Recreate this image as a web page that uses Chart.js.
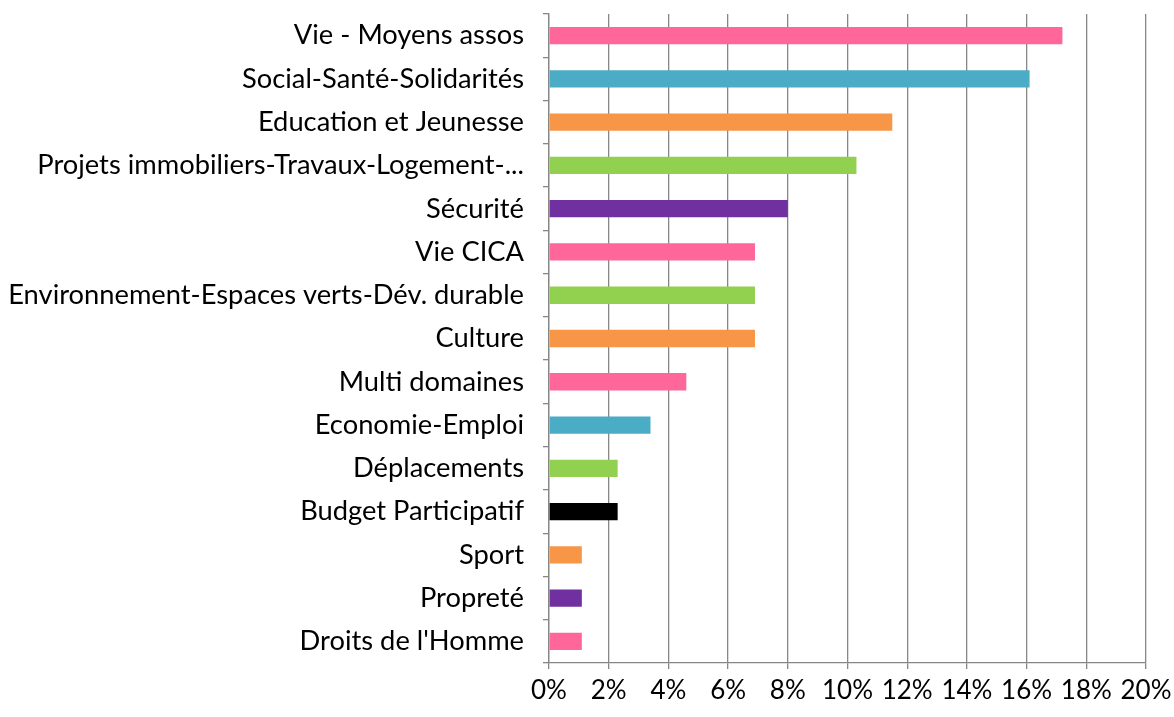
<!DOCTYPE html>
<html lang="fr">
<head>
<meta charset="UTF-8">
<title>Domaines</title>
<script src="https://cdn.jsdelivr.net/npm/chart.js"></script>
<style>
    body { margin: 0; padding: 0; background: #fff; }
    #wrap { width: 1174px; height: 717px; }
</style>
</head>
<body>
<div id="wrap"><canvas id="graphique" width="1174" height="717"></canvas></div>
<script>
const categories = [
    "Vie - Moyens assos",
    "Social-Santé-Solidarités",
    "Education et Jeunesse",
    "Projets immobiliers-Travaux-Logement-...",
    "Sécurité",
    "Vie CICA",
    "Environnement-Espaces verts-Dév. durable",
    "Culture",
    "Multi domaines",
    "Economie-Emploi",
    "Déplacements",
    "Budget Participatif",
    "Sport",
    "Propreté",
    "Droits de l'Homme"
];
const pourcentages = [17.2, 16.1, 11.5, 10.3, 8.0, 6.9, 6.9, 6.9, 4.6, 3.4, 2.3, 2.3, 1.1, 1.1, 1.1];
const couleurs = ["#FF6699", "#4BACC6", "#F79646", "#92D050", "#7030A0", "#FF6699", "#92D050",
    "#F79646", "#FF6699", "#4BACC6", "#92D050", "#000000", "#F79646", "#7030A0", "#FF6699"];
const xMin = 0, xMax = 20, xPas = 2;

const police = "Lato, 'Open Sans', sans-serif";

new Chart(document.getElementById("graphique"), {
    type: 'bar',
    data: {
        labels: categories,
        datasets: [{
            data: pourcentages,
            backgroundColor: couleurs,
            borderWidth: 0,
            categoryPercentage: 1,
            barPercentage: 0.4
        }]
    },
    options: {
        indexAxis: 'y',
        responsive: false,
        animation: false,
        layout: { padding: { top: 14, right: 28, left: 0, bottom: 0 } },
        plugins: { legend: { display: false }, tooltip: { enabled: false } },
        scales: {
            x: {
                min: xMin, max: xMax,
                ticks: {
                    stepSize: xPas,
                    color: '#000',
                    font: { family: police, size: 26 },
                    padding: 6,
                    callback: v => v + '%'
                },
                grid: { color: '#878787', lineWidth: 1.3, tickLength: 6 },
                border: { color: '#878787', width: 1.3 },
                afterFit: s => { s.height = 54; s.paddingRight = 0; }
            },
            y: {
                ticks: {
                    color: '#000',
                    font: { family: police, size: 27.3 },
                    padding: 19,
                    autoSkip: false
                },
                grid: { drawOnChartArea: false, color: '#878787', lineWidth: 1.3, tickLength: 6, offset: true },
                border: { color: '#878787', width: 1.3 },
                afterFit: s => { s.width = 549; s.paddingTop = 0; s.paddingBottom = 0; }
            }
        }
    }
});
</script>
</body>
</html>
